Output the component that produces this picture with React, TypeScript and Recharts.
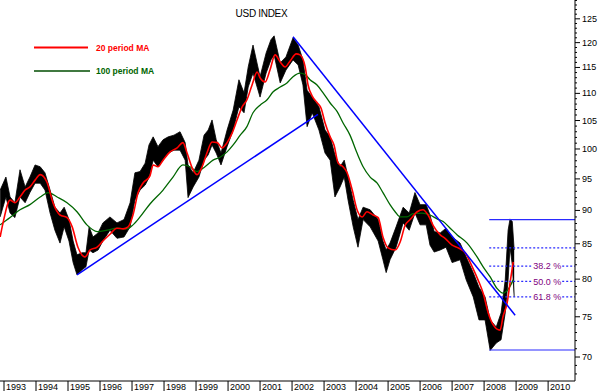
import React from "react";
import {
  ComposedChart,
  Area,
  Line,
  XAxis,
  YAxis,
  ReferenceLine,
  ReferenceDot,
} from "recharts";

// weekly price envelope (high / low)
const priceYears = [
  1992.88, 1993.06, 1993.19, 1993.34, 1993.5, 1993.66, 1993.81, 1993.97, 1994.13, 1994.28,
  1994.44, 1994.59, 1994.75, 1994.88, 1995.03, 1995.16, 1995.28, 1995.44, 1995.56, 1995.66,
  1995.78, 1995.94, 1996.09, 1996.31, 1996.53, 1996.75, 1996.94, 1997.09, 1997.25, 1997.41,
  1997.53, 1997.66, 1997.81, 1997.97, 1998.13, 1998.31, 1998.5, 1998.66, 1998.75, 1998.91,
  1999.09, 1999.25, 1999.38, 1999.5, 1999.63, 1999.78, 1999.97, 2000.16, 2000.34, 2000.5,
  2000.63, 2000.78, 2001.0, 2001.19, 2001.34, 2001.44, 2001.63, 2001.81, 2002.03, 2002.19,
  2002.34, 2002.47, 2002.63, 2002.84, 2003.03, 2003.19, 2003.34, 2003.5, 2003.63, 2003.75,
  2003.91, 2004.06, 2004.22, 2004.44, 2004.69, 2004.84, 2004.94, 2005.06, 2005.25, 2005.47,
  2005.66, 2005.84, 2006.0, 2006.19, 2006.31, 2006.44, 2006.63, 2006.81, 2007.0, 2007.25,
  2007.44, 2007.66, 2007.84, 2008.03, 2008.19, 2008.38, 2008.53, 2008.66, 2008.75, 2008.81,
  2008.88, 2008.94,
];
const priceHigh = [
  93.2, 95.3, 92.1, 91.2, 96.5, 93.7, 95.3, 97.3, 97.0, 96.0,
  93.2, 90.5, 89.6, 90.5, 88.6, 85.4, 83.4, 83.7, 83.7, 87.5,
  86.0, 86.6, 88.1, 89.0, 88.1, 88.6, 91.2, 96.0, 96.2, 97.6,
  100.7, 102.1, 100.4, 101.6, 102.1, 102.4, 103.0, 101.1, 97.3, 96.0,
  98.1, 102.4, 103.3, 105.1, 101.6, 99.3, 103.3, 106.9, 112.6, 110.1,
  115.1, 119.5, 113.2, 117.9, 120.6, 121.4, 115.9, 117.1, 121.0, 119.5,
  116.5, 110.6, 109.3, 107.5, 103.3, 102.1, 99.0, 97.0, 98.1, 95.3,
  91.6, 88.6, 90.5, 90.1, 88.6, 85.4, 84.1, 85.1, 87.5, 90.5,
  89.6, 92.8, 90.9, 90.9, 89.3, 86.8, 86.6, 87.3, 86.0, 85.1,
  83.1, 80.9, 78.9, 77.6, 74.6, 73.7, 75.5, 79.9, 87.0, 88.7,
  88.3, 84.1,
];
const priceLow = [
  89.0, 92.1, 89.6, 88.9, 92.1, 91.2, 92.8, 94.3, 94.3, 93.2,
  89.6, 87.0, 85.1, 87.5, 85.4, 82.3, 80.6, 81.3, 81.7, 84.1,
  83.7, 84.1, 85.4, 87.0, 85.8, 86.0, 87.5, 91.6, 93.2, 94.0,
  95.2, 98.1, 97.0, 98.1, 99.3, 99.8, 99.8, 98.1, 92.0, 93.7,
  95.3, 98.1, 99.0, 100.7, 99.3, 97.3, 100.4, 103.3, 107.5, 106.4,
  111.2, 113.9, 109.3, 113.9, 116.5, 117.5, 112.0, 114.5, 116.5, 115.5,
  111.6, 103.9, 106.4, 103.3, 99.3, 98.1, 92.1, 93.7, 95.3, 91.6,
  87.5, 84.5, 88.6, 87.5, 85.4, 82.7, 80.9, 82.7, 84.5, 88.1,
  87.0, 89.6, 87.8, 87.8, 84.8, 83.8, 84.1, 84.5, 82.3, 82.7,
  79.9, 77.6, 74.6, 74.6, 70.8, 71.7, 72.1, 75.5, 79.9, 84.5,
  82.0, 77.6,
];

// 20 period MA
const ma20Years = [
  1992.88, 1992.97, 1993.19, 1993.34, 1993.5, 1993.66, 1993.81, 1993.97, 1994.13, 1994.34,
  1994.53, 1994.75, 1994.97, 1995.13, 1995.31, 1995.53, 1995.69, 1995.91, 1996.09, 1996.31,
  1996.53, 1996.72, 1996.88, 1997.03, 1997.19, 1997.34, 1997.56, 1997.66, 1997.81, 1997.97,
  1998.19, 1998.41, 1998.59, 1998.72, 1998.88, 1999.03, 1999.19, 1999.34, 1999.5, 1999.66,
  1999.81, 1999.97, 2000.13, 2000.28, 2000.44, 2000.59, 2000.75, 2000.91, 2001.0, 2001.16,
  2001.31, 2001.47, 2001.63, 2001.78, 2001.94, 2002.13, 2002.25, 2002.41, 2002.5, 2002.63,
  2002.78, 2002.91, 2003.03, 2003.19, 2003.31, 2003.44, 2003.59, 2003.72, 2003.88, 2004.03,
  2004.19, 2004.34, 2004.53, 2004.69, 2004.84, 2005.0, 2005.22, 2005.38, 2005.53, 2005.69,
  2005.91, 2006.09, 2006.25, 2006.41, 2006.63, 2006.78, 2007.0, 2007.19, 2007.41, 2007.63,
  2007.81, 2007.97, 2008.13, 2008.28, 2008.5, 2008.59, 2008.72, 2008.81, 2008.91,
];
const ma20 = [
  86.0, 88.1, 91.6, 91.2, 92.1, 93.2, 93.7, 94.8, 95.7, 94.5,
  91.2, 89.3, 88.9, 87.5, 84.5, 83.1, 84.1, 84.5, 85.4, 86.4,
  87.3, 87.2, 87.5, 89.3, 92.8, 94.3, 95.5, 97.3, 97.0, 98.1,
  99.5, 100.2, 101.1, 99.3, 96.8, 95.7, 97.0, 99.3, 101.2, 101.1,
  100.2, 101.1, 102.8, 105.1, 107.5, 108.8, 111.6, 114.1, 113.0, 112.2,
  114.5, 117.5, 116.1, 115.1, 116.3, 117.7, 117.5, 115.1, 111.6, 109.5,
  108.3, 107.2, 104.6, 102.1, 100.7, 97.6, 97.0, 96.0, 93.2, 90.1,
  89.0, 89.8, 89.3, 88.9, 86.0, 84.4, 84.1, 85.3, 87.7, 88.6,
  89.8, 90.1, 89.3, 87.7, 86.3, 85.8, 84.8, 84.4, 83.7, 81.7,
  79.9, 78.1, 75.5, 74.0, 73.3, 75.0, 76.8, 79.5, 82.4,
];

// 100 period MA
const ma100Years = [
  1992.88, 1993.19, 1993.5, 1993.81, 1994.13, 1994.38, 1994.66, 1994.97, 1995.28, 1995.59,
  1995.91, 1996.22, 1996.53, 1996.84, 1997.03, 1997.25, 1997.56, 1997.97, 1998.28, 1998.59,
  1998.81, 1999.03, 1999.28, 1999.53, 1999.75, 1999.97, 2000.16, 2000.38, 2000.59, 2000.78,
  2001.0, 2001.22, 2001.41, 2001.63, 2001.84, 2002.03, 2002.25, 2002.41, 2002.56, 2002.78,
  2002.97, 2003.19, 2003.41, 2003.59, 2003.81, 2004.03, 2004.22, 2004.44, 2004.66, 2004.84,
  2005.06, 2005.22, 2005.38, 2005.59, 2005.78, 2006.06, 2006.31, 2006.53, 2006.72, 2006.94,
  2007.16, 2007.47, 2007.78, 2007.97, 2008.19, 2008.41, 2008.59, 2008.75, 2008.91,
];
const ma100 = [
  87.8, 88.9, 90.1, 90.9, 92.1, 92.8, 92.1, 91.2, 89.8, 87.8,
  86.8, 87.0, 87.3, 87.2, 87.8, 89.0, 91.0, 93.2, 95.3, 97.3,
  97.0, 96.2, 97.0, 98.1, 98.6, 99.5, 100.7, 102.4, 103.9, 106.4,
  107.8, 108.8, 110.3, 111.2, 112.0, 113.2, 113.9, 113.6, 112.6, 111.6,
  110.1, 108.2, 106.6, 104.6, 102.4, 99.3, 97.0, 95.3, 94.3, 92.8,
  90.9, 89.8, 89.0, 89.0, 89.5, 89.6, 89.3, 88.7, 88.3, 87.3,
  86.3, 85.1, 83.1, 81.7, 80.3, 78.7, 78.1, 78.6, 79.9,
];

const yearTicks = [
  1993, 1994, 1995, 1996, 1997, 1998, 1999, 2000, 2001, 2002,
  2003, 2004, 2005, 2006, 2007, 2008, 2009, 2010,
];
const majorTicks = [70, 75, 80, 85, 90, 95, 100, 105, 110, 115, 120, 125];
const axisTicks = [
  68, 69, 70, 71, 72, 73, 74, 75, 76, 77, 78, 79, 80, 81, 82, 83, 84, 85, 86, 87,
  88, 89, 90, 91, 92, 93, 94, 95, 96, 97, 98, 99, 100, 101, 102, 103, 104, 105, 106, 107,
  108, 109, 110, 111, 112, 113, 114, 115, 116, 117, 118, 119, 120, 121, 122, 123, 124, 125,
  126, 127, 128, 129,
];

// trend lines [x1, y1, x2, y2]
const upTrend = [1995.28, 80.6, 2002.81, 106.1];
const downTrend = [2002.03, 121.2, 2008.97, 75.2];
// retracement range
const fibStart = 2008.16;
const fibEnd = 2010.84;
const fibHigh = 88.6;
const fibLow = 70.85;
const fibLevels = [84.4, 81.8, 79.7, 77.6];
const fibLabels = ["", "38.2 %", "50.0 %", "61.8 %"];
const fibGapFrom = 2009.47;
const fibGapTo = 2010.44;
const fibLabelX = 2009.97;

const priceRows = priceYears.map((year, i) => ({ year, range: [priceLow[i], priceHigh[i]] }));
const ma20Rows = ma20Years.map((year, i) => ({ year, v: ma20[i] }));
const ma100Rows = ma100Years.map((year, i) => ({ year, v: ma100[i] }));

const FONT = "'Liberation Sans', Arial, sans-serif";

const XTick = (props: any) => {
  const { x, y, payload } = props;
  return (
    <g>
      <line x1={x} y1={y} x2={x} y2={y + 10} stroke="#000" />
      <text x={x + 2} y={y + 8.5} fontSize={9} fontFamily={FONT} fill="#000">
        {payload.value}
      </text>
    </g>
  );
};

const YTick = (props: any) => {
  const { x, y, payload } = props;
  const major = majorTicks.includes(payload.value);
  return (
    <g>
      <line x1={x} y1={y} x2={x + (major ? 5 : 2)} y2={y} stroke="#000" />
      {major && (
        <text x={x + 7} y={y + 3} fontSize={9} fontFamily={FONT} fill="#000">
          {payload.value}
        </text>
      )}
    </g>
  );
};

const BLUE = "#0000ff";
const LEVEL_BLUE = "#2a2aff";

export default function App() {
  return (
    <div style={{ position: "absolute", left: 0, top: 0, width: 600, height: 391, background: "#fff" }}>
      <ComposedChart width={600} height={391} margin={{ top: 0, right: 0, left: 0, bottom: 0 }}>
        <XAxis
          type="number"
          dataKey="year"
          domain={[1992.875, 2010.84]}
          allowDataOverflow
          ticks={yearTicks}
          interval={0}
          height={10}
          tickSize={0}
          tickMargin={0}
          tickLine={false}
          axisLine={{ stroke: "#000" }}
          tick={<XTick />}
        />
        <YAxis
          orientation="right"
          type="number"
          scale="log"
          domain={[67.18, 129.1]}
          allowDataOverflow
          ticks={axisTicks}
          interval={0}
          width={25}
          tickSize={0}
          tickMargin={0}
          tickLine={false}
          axisLine={{ stroke: "#000" }}
          tick={<YTick />}
        />

        <Area
          data={priceRows}
          dataKey="range"
          type="linear"
          stroke="#000"
          strokeWidth={0.8}
          fill="#000"
          fillOpacity={1}
          dot={false}
          activeDot={false}
          isAnimationActive={false}
        />
        <Line
          data={ma100Rows}
          dataKey="v"
          type="monotone"
          stroke="#006600"
          strokeWidth={1.3}
          dot={false}
          activeDot={false}
          isAnimationActive={false}
        />
        <Line
          data={ma20Rows}
          dataKey="v"
          type="monotone"
          stroke="#ff0000"
          strokeWidth={1.6}
          dot={false}
          activeDot={false}
          isAnimationActive={false}
        />

        <ReferenceLine
          segment={[{ x: upTrend[0], y: upTrend[1] }, { x: upTrend[2], y: upTrend[3] }]}
          stroke={BLUE}
          strokeWidth={1.5}
        />
        <ReferenceLine
          segment={[{ x: downTrend[0], y: downTrend[1] }, { x: downTrend[2], y: downTrend[3] }]}
          stroke={BLUE}
          strokeWidth={1.5}
        />
        <ReferenceLine
          segment={[{ x: fibStart, y: fibHigh }, { x: fibEnd, y: fibHigh }]}
          stroke={LEVEL_BLUE}
          strokeWidth={1.2}
        />
        <ReferenceLine
          segment={[{ x: fibStart, y: fibLow }, { x: fibEnd, y: fibLow }]}
          stroke={LEVEL_BLUE}
          strokeWidth={1.2}
        />
        {fibLevels.map((lvl, i) =>
          fibLabels[i] === "" ? (
            <ReferenceLine
              key={"f" + i}
              segment={[{ x: fibStart, y: lvl }, { x: fibEnd, y: lvl }]}
              stroke={LEVEL_BLUE}
              strokeWidth={1.2}
              strokeDasharray="2 2"
            />
          ) : (
            <React.Fragment key={"f" + i}>
              <ReferenceLine
                segment={[{ x: fibStart, y: lvl }, { x: fibGapFrom, y: lvl }]}
                stroke={LEVEL_BLUE}
                strokeWidth={1.2}
                strokeDasharray="2 2"
              />
              <ReferenceLine
                segment={[{ x: fibGapTo, y: lvl }, { x: fibEnd, y: lvl }]}
                stroke={LEVEL_BLUE}
                strokeWidth={1.2}
                strokeDasharray="2 2"
              />
              <ReferenceDot
                x={fibLabelX}
                y={lvl}
                r={0}
                fill="none"
                stroke="none"
                label={{ value: fibLabels[i], position: "center", fill: "#800080", fontSize: 9, fontFamily: FONT }}
              />
            </React.Fragment>
          )
        )}
      </ComposedChart>

      <svg
        width={600}
        height={391}
        style={{ position: "absolute", left: 0, top: 0, pointerEvents: "none" }}
      >
        <text x={261.5} y={17} textAnchor="middle" fontSize={10} fontFamily={FONT} fill="#000" letterSpacing={-0.3}>
          USD INDEX
        </text>
        <line x1={34} y1={47.5} x2={88} y2={47.5} stroke="#ff0000" strokeWidth={2} />
        <text x={96} y={50.5} fontSize={8.5} fontWeight="bold" fontFamily={FONT} fill="#ff0000">
          20 period MA
        </text>
        <line x1={34} y1={71} x2={90} y2={71} stroke="#004d00" strokeWidth={1.5} />
        <text x={96} y={74} fontSize={8.5} fontWeight="bold" fontFamily={FONT} fill="#006400">
          100 period MA
        </text>
      </svg>
    </div>
  );
}
